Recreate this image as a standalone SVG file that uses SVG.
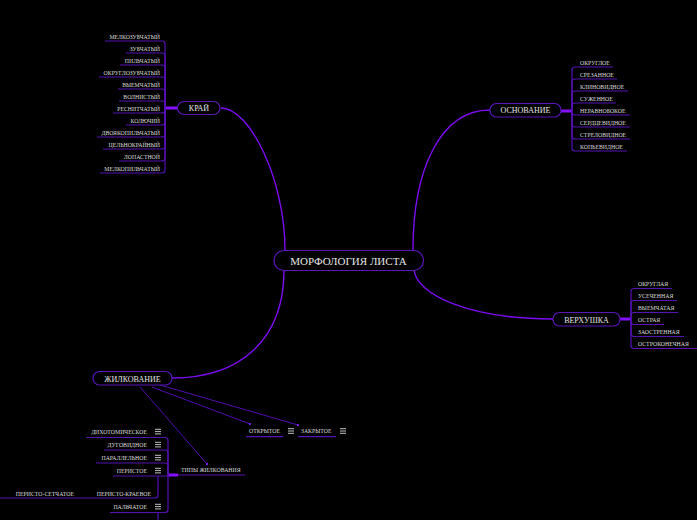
<svg xmlns="http://www.w3.org/2000/svg" width="697" height="520" viewBox="0 0 697 520">
<defs>
<style>
.bg{fill:#000}
.node rect{fill:#000;stroke:#5a16b8;stroke-width:1.2}
.nt{font-family:"Liberation Serif",serif;fill:#e6e6e6;text-anchor:middle}
.lt{font-family:"Liberation Serif",serif;font-size:5.8px;fill:#dcdcdc}
.main{fill:none;stroke:#7c0cf2;stroke-width:1.4}
.leaf{fill:none;stroke:#5512b4;stroke-width:1.2}
.stub{fill:none;stroke:#8410ff;stroke-width:3}
.rel{fill:none;stroke:#5a0fbf;stroke-width:0.9}
.ic{fill:none;stroke:#d8d8d8;stroke-width:0.9}
</style>
<marker id="dot" viewBox="0 0 4 4" refX="2" refY="2" markerWidth="3" markerHeight="3">
<circle cx="2" cy="2" r="1.6" fill="#7a20ff"/>
</marker>
<path id="menu" d="M0,0h6M0,2.3h6M0,4.6h6" class="ic"/>
</defs>
<rect class="bg" x="0" y="0" width="697" height="520"/>

<g id="connectors">
<path class="main" d="M285,250 C285,180 250,108 221,108"/>
<path class="main" d="M413,250 C413,170 440,110 490,110"/>
<path class="main" d="M414,270 C417,295 470,319 553,319"/>
<path class="main" d="M284,270 C284,340 240,378 172,378"/>
<path class="rel" d="M140,387 L207,464" marker-end="url(#dot)"/>
<path class="rel" d="M152,387 L250,424" marker-end="url(#dot)"/>
<path class="rel" d="M160,385 L298,425" marker-end="url(#dot)"/>
<!-- КРАЙ leaves -->
<path class="stub" d="M165,108 H178"/>
<path class="leaf" d="M105,41 H162 Q165,41 165,44 V108"/>
<path class="leaf" d="M126,53 H162 Q165,53 165,56 V108"/>
<path class="leaf" d="M120,65 H162 Q165,65 165,68 V108"/>
<path class="leaf" d="M99,77 H162 Q165,77 165,80 V108"/>
<path class="leaf" d="M118,89 H162 Q165,89 165,92 V108"/>
<path class="leaf" d="M119,101 H162 Q165,101 165,104 V108"/>
<path class="leaf" d="M113,113 H162 Q165,113 165,110 V108"/>
<path class="leaf" d="M126,125 H162 Q165,125 165,122 V108"/>
<path class="leaf" d="M97,137 H162 Q165,137 165,134 V108"/>
<path class="leaf" d="M103,149 H162 Q165,149 165,146 V108"/>
<path class="leaf" d="M119,161 H162 Q165,161 165,158 V108"/>
<path class="leaf" d="M100,173 H162 Q165,173 165,170 V108"/>
<!-- ОСНОВАНИЕ leaves -->
<path class="stub" d="M561,111 H572"/>
<path class="leaf" d="M572,111 V70 Q572,67 575,67 H613"/>
<path class="leaf" d="M572,111 V82 Q572,79 575,79 H617"/>
<path class="leaf" d="M572,111 V94 Q572,91 575,91 H628"/>
<path class="leaf" d="M572,111 V106 Q572,103 575,103 H616"/>
<path class="leaf" d="M572,111 V112 Q572,115 575,115 H630"/>
<path class="leaf" d="M572,111 V124 Q572,127 575,127 H630"/>
<path class="leaf" d="M572,111 V136 Q572,139 575,139 H630"/>
<path class="leaf" d="M572,111 V148 Q572,151 575,151 H627"/>
<!-- ВЕРХУШКА leaves -->
<path class="stub" d="M620,319 H631"/>
<path class="leaf" d="M631,319 V291.5 Q631,288.5 634,288.5 H672"/>
<path class="leaf" d="M631,319 V303.5 Q631,300.5 634,300.5 H677"/>
<path class="leaf" d="M631,319 V315.5 Q631,312.5 634,312.5 H678"/>
<path class="leaf" d="M631,319 V321.5 Q631,324.5 634,324.5 H664"/>
<path class="leaf" d="M631,319 V333.5 Q631,336.5 634,336.5 H684"/>
<path class="leaf" d="M631,319 V345.5 Q631,348.5 634,348.5 H697"/>
<!-- ОТКРЫТОЕ / ЗАКРЫТОЕ underlines -->
<path class="leaf" d="M246,436.7 H283"/>
<path class="leaf" d="M298,436.7 H336"/>
<!-- ТИПЫ ЖИЛКОВАНИЯ -->
<path class="stub" d="M168,475 H178"/>
<path class="leaf" d="M178,475 H245"/>
<path class="leaf" d="M168,475 V440.5 Q168,437.5 165,437.5 H86"/>
<path class="leaf" d="M168,475 V453 Q168,450 165,450 H104"/>
<path class="leaf" d="M168,475 V466 Q168,463 165,463 H96"/>
<path class="leaf" d="M168,475 V476 H113"/>
<path class="leaf" d="M168,475 V509.5 Q168,512.5 165,512.5 H110"/>
<path class="leaf" d="M158,476 V495 Q158,498 155,498 H0"/>
<path class="leaf" d="M158,512.5 V520"/>
</g>

<g id="n-center" class="node">
<rect x="274" y="250.5" width="149.5" height="20" rx="10"/>
<text class="nt" x="348.5" y="265" font-size="11">МОРФОЛОГИЯ ЛИСТА</text>
</g>
<g id="n-kray" class="node">
<rect x="177.5" y="101.5" width="42.5" height="13" rx="6.5"/>
<text class="nt" x="199" y="111" font-size="8">КРАЙ</text>
</g>
<g id="n-osnovanie" class="node">
<rect x="490" y="103.5" width="71" height="13.5" rx="6.5"/>
<text class="nt" x="525.5" y="113" font-size="8">ОСНОВАНИЕ</text>
</g>
<g id="n-verhushka" class="node">
<rect x="553" y="312.5" width="67" height="13.5" rx="6.5"/>
<text class="nt" x="586.5" y="322.5" font-size="8">ВЕРХУШКА</text>
</g>
<g id="n-zhilkovanie" class="node">
<rect x="93" y="371.5" width="79" height="13.5" rx="6.5"/>
<text class="nt" x="132.5" y="381.5" font-size="8">ЖИЛКОВАНИЕ</text>
</g>

<g id="kray-leaves" class="lt" text-anchor="end">
<text x="160" y="39">МЕЛКОЗУБЧАТЫЙ</text>
<text x="160" y="51">ЗУБЧАТЫЙ</text>
<text x="160" y="63">ПИЛЬЧАТЫЙ</text>
<text x="160" y="75">ОКРУГЛОЗУБЧАТЫЙ</text>
<text x="160" y="87">ВЫЕМЧАТЫЙ</text>
<text x="160" y="99">ВОЛНИСТЫЙ</text>
<text x="160" y="111">РЕСНИТЧАТЫЙ</text>
<text x="160" y="123">КОЛЮЧИЙ</text>
<text x="160" y="135">ДВОЯКОПИЛЬЧАТЫЙ</text>
<text x="160" y="147">ЦЕЛЬНОКРАЙНЫЙ</text>
<text x="160" y="159">ЛОПАСТНОЙ</text>
<text x="160" y="171">МЕЛКОПИЛЬЧАТЫЙ</text>
</g>
<g id="osnovanie-leaves" class="lt">
<text x="580" y="65">ОКРУГЛОЕ</text>
<text x="580" y="77">СРЕЗАННОЕ</text>
<text x="580" y="89">КЛИНОВИДНОЕ</text>
<text x="580" y="101">СУЖЕННОЕ</text>
<text x="580" y="113">НЕРАВНОБОКОЕ</text>
<text x="580" y="125">СЕРДЦЕВИДНОЕ</text>
<text x="580" y="137">СТРЕЛОВИДНОЕ</text>
<text x="580" y="149">КОПЬЕВИДНОЕ</text>
</g>
<g id="verhushka-leaves" class="lt">
<text x="638" y="286.3">ОКРУГЛАЯ</text>
<text x="638" y="298.3">УСЕЧЕННАЯ</text>
<text x="638" y="310.3">ВЫЕМЧАТАЯ</text>
<text x="638" y="322.3">ОСТРАЯ</text>
<text x="638" y="334.3">ЗАОСТРЕННАЯ</text>
<text x="638" y="346.3">ОСТРОКОНЕЧНАЯ</text>
</g>
<g id="n-otkrytoe">
<text class="lt" x="249" y="433">ОТКРЫТОЕ</text>
<use href="#menu" x="288" y="428.7"/>
</g>
<g id="n-zakrytoe">
<text class="lt" x="301" y="433">ЗАКРЫТОЕ</text>
<use href="#menu" x="340" y="428.7"/>
</g>
<g id="n-tipy">
<text class="lt" x="181" y="471.5">ТИПЫ ЖИЛКОВАНИЯ</text>
</g>
<g id="tipy-leaves" class="lt" text-anchor="end">
<text x="147" y="433.5">ДИХОТОМИЧЕСКОЕ</text>
<text x="147" y="446.5">ДУГОВИДНОЕ</text>
<text x="147" y="459.5">ПАРАЛЛЕЛЬНОЕ</text>
<text x="147" y="472.5">ПЕРИСТОЕ</text>
<text x="147" y="508.5">ПАЛЬЧАТОЕ</text>
<text x="151" y="496">ПЕРИСТО-КРАЕВОЕ</text>
<text x="74" y="496">ПЕРИСТО-СЕТЧАТОЕ</text>
</g>
<g id="tipy-icons">
<use href="#menu" x="155" y="429.3"/>
<use href="#menu" x="155" y="442.3"/>
<use href="#menu" x="155" y="455.3"/>
<use href="#menu" x="155" y="468.3"/>
<use href="#menu" x="155" y="504.3"/>
</g>
</svg>
